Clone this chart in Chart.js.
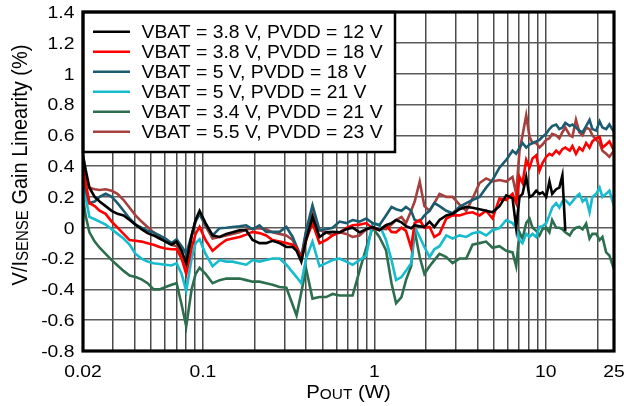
<!DOCTYPE html>
<html>
<head>
<meta charset="utf-8">
<script src="https://cdn.jsdelivr.net/npm/chart.js@4.4.1/dist/chart.umd.min.js"></script>
<style>
  html, body { margin: 0; padding: 0; background: #fff; }
  canvas { display: block; }
</style>
</head>
<body>
<canvas id="gainChart" width="624" height="406"></canvas>
<script>
const canvas = document.getElementById("gainChart");
const ctx = canvas.getContext("2d");

// output power (W)
const pout = [
  0.02, 0.0207, 0.0218, 0.0234, 0.025, 0.0271, 0.0294, 0.0318, 0.0345, 0.0374,
  0.0405, 0.0439, 0.0476, 0.0516, 0.0559, 0.0606, 0.0657, 0.0703, 0.0752, 0.080,
  0.086, 0.0907, 0.0957, 0.1037, 0.114, 0.1252, 0.137, 0.149, 0.1637, 0.179,
  0.195, 0.214, 0.234, 0.255, 0.28, 0.307, 0.334, 0.352, 0.375, 0.40,
  0.436, 0.479, 0.524, 0.571, 0.627, 0.686, 0.747, 0.82, 0.897, 0.977,
  1.07, 1.17, 1.26, 1.34, 1.44, 1.53, 1.64, 1.72, 1.84, 1.96,
  2.10, 2.24, 2.40, 2.63, 2.86, 3.14, 3.44, 3.74, 4.11, 4.49,
  4.89, 5.37, 5.88, 6.40, 6.72, 7.03, 7.32, 7.69, 8.04, 8.37,
  8.79, 9.19, 9.57, 10.06, 10.5, 10.9, 11.5, 12.0, 12.5, 13.0,
  13.8, 14.3, 15.0, 15.7, 16.4, 17.2, 18.0, 18.7, 19.7, 20.6,
  21.4, 22.5, 23.5, 25
];

// gain linearity (%) per condition
const vbat38pvdd12 = [
  0.47, 0.38, 0.26, 0.2, 0.17, 0.14, 0.11, 0.09, 0.08, 0.05,
  0.02, -0.01, -0.035, -0.05, -0.07, -0.09, -0.11, -0.09, -0.15, -0.23,
  -0.05, 0.05, 0.11, 0.03, -0.05, -0.06, -0.04, -0.03, -0.016, -0.016,
  -0.08, -0.1, -0.1, -0.085, -0.1, -0.125, -0.125, -0.15, -0.22, -0.08,
  0.07, -0.06, -0.03, -0.027, -0.03, -0.01, 0.0, -0.03, -0.01, 0.005,
  -0.016, 0.016, 0.03, 0.05, 0.035, 0.01, -0.003, 0.016, 0.01, 0.005,
  0.04, 0.005, 0.05, 0.08, 0.09, 0.12, 0.135, 0.13, 0.12, 0.11,
  0.1, 0.14, 0.21, 0.19, 0.0, 0.2, 0.22, 0.33, 0.2, 0.21,
  0.24, 0.22, 0.23, 0.2, 0.3, 0.22, 0.25, 0.26, 0.34, -0.02,
  null, null, null, null, null, null, null, null, null, null,
  null, null, null, null
];
const vbat38pvdd18 = [
  0.42, 0.3, 0.16, 0.14, 0.11, 0.09, 0.04, 0.0, -0.04, -0.08,
  -0.085, -0.09, -0.1, -0.11, -0.125, -0.135, -0.14, -0.14, -0.2, -0.3,
  -0.13, -0.04, 0.005, -0.08, -0.15, -0.11, -0.08, -0.07, -0.06, -0.045,
  -0.027, -0.035, -0.05, -0.08, -0.09, -0.1, -0.11, -0.13, -0.2, -0.08,
  0.03, -0.1, -0.08, -0.05, -0.03, -0.003, 0.016, 0.02, 0.03, -0.003,
  -0.016, 0.016, -0.027, -0.03, 0.0, -0.02, -0.13, 0.03, 0.05, 0.0,
  0.005, -0.06, -0.04, 0.06, 0.08, 0.08, 0.094, 0.1, 0.08, 0.11,
  0.06, 0.19, 0.18, 0.22, 0.16, 0.33, 0.29, 0.44, 0.39, 0.45,
  0.47, 0.37, 0.42, 0.46, 0.48, 0.47, 0.5, 0.48, 0.51, 0.52,
  0.5, 0.53, 0.48, 0.52, 0.5, 0.55, 0.52, 0.56, 0.58, 0.59,
  0.52, 0.54, 0.56, 0.5
];
const vbat5pvdd18 = [
  0.37, 0.25, 0.16, 0.17, 0.2, 0.22, 0.2, 0.16, 0.11, 0.06,
  0.02, 0.0, -0.02, -0.03, -0.05, -0.07, -0.1, -0.075, -0.12, -0.17,
  -0.05, 0.04, 0.09, 0.02, -0.05, -0.003, 0.0, 0.005, 0.01, 0.016,
  -0.01, 0.016, -0.027, -0.027, -0.027, 0.005, -0.06, -0.12, -0.19, -0.02,
  0.146, -0.016, -0.01, 0.0, 0.04, 0.03, 0.05, 0.04, 0.06, 0.03,
  0.016, 0.08, 0.135, 0.12, 0.11, 0.135, 0.11, 0.05, 0.04, 0.08,
  0.11, 0.16, 0.14, 0.11, 0.094, 0.135, 0.16, 0.18, 0.2, 0.26,
  0.31, 0.39, 0.44, 0.5, 0.48, 0.52, 0.55, 0.52, 0.54, 0.55,
  0.56, 0.57, 0.59, 0.61, 0.64, 0.66, 0.67, 0.64, 0.65, 0.68,
  0.66, 0.67, 0.65, 0.63, 0.62, 0.66, 0.7, 0.64, 0.63, 0.69,
  0.65, 0.64, 0.67, 0.62
];
const vbat5pvdd21 = [
  0.35, 0.2, 0.07, 0.055, 0.04, 0.02, -0.01, -0.04, -0.07, -0.11,
  -0.17, -0.2, -0.22, -0.23, -0.235, -0.24, -0.245, -0.23, -0.3, -0.41,
  -0.2, -0.1, -0.075, -0.17, -0.25, -0.21, -0.22, -0.22, -0.23, -0.24,
  -0.21, -0.22, -0.21, -0.2, -0.2, -0.24, -0.29, -0.32, -0.36, -0.2,
  -0.09, -0.25, -0.23, -0.21, -0.2, -0.22, -0.24, -0.21, -0.18, 0.03,
  0.02, -0.08, -0.21, -0.34, -0.32, -0.28, -0.23, 0.005, -0.06, -0.125,
  -0.19, -0.14, -0.12, -0.05, -0.07, -0.05, -0.06, -0.036, -0.027, -0.05,
  -0.016, -0.003, 0.05, 0.03, 0.0, -0.08, -0.1, -0.04, -0.06, -0.04,
  -0.06, 0.005, 0.01, 0.03, 0.08, 0.13, 0.16, 0.13, 0.17, 0.18,
  0.15, 0.17, 0.2, 0.22, 0.17, 0.19, 0.1, 0.2, 0.22, 0.26,
  0.2, 0.22, 0.24, 0.14
];
const vbat34pvdd21 = [
  0.2, 0.08, -0.03, -0.09, -0.13, -0.17, -0.21, -0.245, -0.28, -0.31,
  -0.32, -0.335, -0.36, -0.4, -0.4, -0.385, -0.37, -0.36, -0.5, -0.64,
  -0.4, -0.3, -0.26, -0.3, -0.36, -0.34, -0.33, -0.33, -0.33, -0.34,
  -0.35, -0.35, -0.36, -0.37, -0.385, -0.39, -0.5, -0.57, -0.42, -0.265,
  -0.46, -0.45, -0.45, -0.43, -0.44, -0.44, -0.44, -0.28, -0.13, 0.0,
  -0.06, -0.146, -0.36, -0.49, -0.45, -0.34, -0.25, -0.02, -0.19, -0.3,
  -0.25, -0.21, -0.17, -0.19, -0.23, -0.2, -0.2, -0.11, -0.1, -0.09,
  -0.13, -0.12, -0.15, -0.16, -0.25, -0.03, -0.07, 0.03, 0.06, 0.0,
  -0.02, -0.05, -0.01, 0.0, -0.03, 0.05, 0.0, 0.0, -0.01, -0.03,
  -0.05, -0.02, 0.0, 0.005, -0.01, 0.027, -0.07, -0.04, -0.04, -0.08,
  -0.06, -0.16, -0.18, -0.27
];
const vbat55pvdd23 = [
  0.39, 0.33, 0.26, 0.25, 0.245, 0.25, 0.24, 0.22, 0.18, 0.13,
  0.08, 0.04, 0.005, -0.03, -0.06, -0.09, -0.11, -0.12, -0.18, -0.25,
  -0.06, 0.05, 0.09, 0.01, -0.07, -0.06, -0.05, -0.04, -0.03, -0.012,
  -0.005, -0.005, -0.01, -0.03, -0.04, -0.05, -0.08, -0.13, -0.21, -0.03,
  0.1, -0.016, -0.03, -0.05, -0.03, -0.04, -0.06, -0.05, -0.01, -0.005,
  -0.005, -0.01, 0.02, 0.05, 0.07, 0.03, 0.11, 0.17, 0.3, 0.14,
  0.11, 0.16, 0.22, 0.2, 0.2, 0.15, 0.11, 0.19, 0.29, 0.32,
  0.3, 0.31, 0.3, 0.33, 0.22, 0.5, 0.6, 0.73, 0.59, 0.55,
  0.55, 0.52, 0.54, 0.57, 0.58, 0.61, 0.6, 0.58, 0.62, 0.65,
  0.6, 0.59, 0.7, 0.62, 0.6, 0.65, 0.64, 0.6, 0.57, 0.55,
  0.5, 0.48, 0.46, 0.5
];

const seriesNames = [
  "VBAT = 3.8 V, PVDD = 12 V",
  "VBAT = 3.8 V, PVDD = 18 V",
  "VBAT = 5 V, PVDD = 18 V",
  "VBAT = 5 V, PVDD = 21 V",
  "VBAT = 3.4 V, PVDD = 21 V",
  "VBAT = 5.5 V, PVDD = 23 V"
];
const seriesValues = [vbat38pvdd12, vbat38pvdd18, vbat5pvdd18, vbat5pvdd21, vbat34pvdd21, vbat55pvdd23];
const seriesColors = ["#000000", "#ff0000", "#1c5c70", "#16bccd", "#2d6e4f", "#a5403f"];

// axis ticks
const xGrid = [0.02, 0.03, 0.04, 0.05, 0.06, 0.07, 0.08, 0.09,
  0.1, 0.2, 0.3, 0.4, 0.5, 0.6, 0.7, 0.8, 0.9,
  1, 2, 3, 4, 5, 6, 7, 8, 9, 10, 20, 25];
const xLabelValues = [0.02, 0.1, 1, 10, 25];
const xLabels = ["0.02", "0.1", "1", "10", "25"];
const yTicks = [-0.8, -0.6, -0.4, -0.2, 0, 0.2, 0.4, 0.6, 0.8, 1, 1.2, 1.4];
const yLabels = ["-0.8", "-0.6", "-0.4", "-0.2", "0", "0.2", "0.4", "0.6", "0.8", "1", "1.2", "1.4"];

const FONT = '"Liberation Sans", Arial, sans-serif';

// text is a bit wide in the original, so stretch it sideways
function wideText(c, str, x, y, size, align, sx) {
  c.save();
  c.font = size + "px " + FONT;
  c.translate(x, y);
  c.scale(sx, 1);
  c.textAlign = align;
  c.textBaseline = "alphabetic";
  c.fillText(str, 0, 0);
  c.restore();
}

// text with subscript parts, centred on 0,0 of current transform
function subText(c, parts, size, subSize) {
  let total = 0;
  const widths = parts.map(p => {
    c.font = (p[1] ? subSize : size) + "px " + FONT;
    const w = c.measureText(p[0]).width;
    total += w;
    return w;
  });
  let x = -total / 2;
  c.textAlign = "left";
  c.textBaseline = "alphabetic";
  parts.forEach((p, i) => {
    c.font = (p[1] ? subSize : size) + "px " + FONT;
    c.fillText(p[0], x, p[1] ? 1 : 0);
    x += widths[i];
  });
}

const decorPlugin = {
  id: "decor",
  afterDatasetsDraw(chart) {
    const c = chart.ctx;
    const a = chart.chartArea;
    const xs = chart.scales.x;
    const ys = chart.scales.y;

    // legend box
    const lx = a.left, ly = a.top, lw = 395 - a.left, lh = 152 - a.top;
    c.save();
    c.fillStyle = "#fff";
    c.fillRect(lx, ly, lw, lh);
    c.strokeStyle = "#000";
    c.lineWidth = 2.5;
    c.strokeRect(lx, ly, lw, lh);
    seriesNames.forEach((name, i) => {
      const yy = 31.7 + i * 20;
      c.strokeStyle = seriesColors[i];
      c.lineWidth = 2.6;
      c.beginPath();
      c.moveTo(93, yy);
      c.lineTo(130, yy);
      c.stroke();
      c.fillStyle = "#000";
      wideText(c, name, 141.5, yy + 6.4, 17.7, "left", 1.095);
    });

    // frame
    c.strokeStyle = "#000";
    c.lineWidth = 3.2;
    c.strokeRect(a.left, a.top, a.right - a.left, a.bottom - a.top);

    // tick labels
    c.fillStyle = "#000";
    yTicks.forEach((v, i) => {
      wideText(c, yLabels[i], 74.5, ys.getPixelForValue(v) + 5.9, 16.4, "right", 1.18);
    });
    xLabelValues.forEach((v, i) => {
      wideText(c, xLabels[i], xs.getPixelForValue(v), 376.8, 16.4, "center", 1.18);
    });

    // axis titles
    c.save();
    c.translate((a.left + a.right) / 2, 397.5);
    c.scale(1.1, 1);
    subText(c, [["P", false], ["OUT", true], [" (W)", false]], 18.5, 14);
    c.restore();

    c.save();
    c.translate(26.5, 165);
    c.rotate(-Math.PI / 2);
    c.scale(1, 1.1);
    subText(c, [["V/I", false], ["SENSE", true], [" Gain Linearity (%)", false]], 20, 15);
    c.restore();
    c.restore();
  }
};

const chart = new Chart(ctx, {
  type: "line",
  data: {
    datasets: seriesValues.map((vals, i) => ({
      label: seriesNames[i],
      data: pout.map((p, j) => ({ x: p, y: vals[j] })),
      borderColor: seriesColors[i],
      borderWidth: 2.6,
      pointRadius: 0,
      tension: 0,
      fill: false,
      spanGaps: false
    }))
  },
  options: {
    responsive: false,
    animation: false,
    layout: { padding: { left: 83, right: 10, top: 12, bottom: 55 } },
    plugins: {
      legend: { display: false },
      tooltip: { enabled: false }
    },
    scales: {
      x: {
        type: "logarithmic",
        min: 0.02,
        max: 25,
        afterBuildTicks: scale => {
          scale.ticks = xGrid.map(v => ({ value: v }));
        },
        ticks: { display: false },
        grid: { color: "#4a4a4a", lineWidth: 1.5, drawTicks: false },
        border: { display: false }
      },
      y: {
        min: -0.8,
        max: 1.4,
        afterBuildTicks: scale => {
          scale.ticks = yTicks.map(v => ({ value: v }));
        },
        ticks: { display: false },
        grid: { color: "#5a5a5a", lineWidth: 1.5, drawTicks: false },
        border: { display: false }
      }
    }
  },
  plugins: [decorPlugin]
});
</script>
</body>
</html>
